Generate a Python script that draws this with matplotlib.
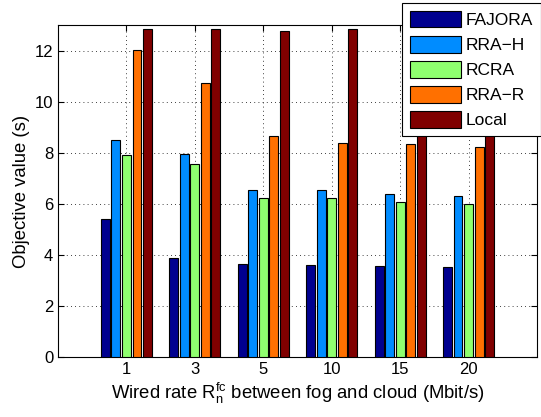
import numpy as np
import matplotlib.pyplot as plt

plt.rcParams['font.family'] = ['Liberation Sans', 'DejaVu Sans']

rates = ['1', '3', '5', '10', '15', '20']
fajora = [5.41, 3.86, 3.66, 3.61, 3.57, 3.53]
rra_h = [8.50, 7.93, 6.52, 6.52, 6.37, 6.30]
rcra = [7.91, 7.54, 6.22, 6.22, 6.08, 5.99]
rra_r = [12.04, 10.71, 8.65, 8.39, 8.33, 8.24]
local = [12.85, 12.85, 12.78, 12.85, 12.85, 12.85]

series = [('FAJORA', fajora, '#00008f'),
          ('RRA\u2212H', rra_h, '#008cff'),
          ('RCRA', rcra, '#8fff6f'),
          ('RRA\u2212R', rra_r, '#ff7000'),
          ('Local', local, '#800000')]

fig = plt.figure(figsize=(5.41, 4.17), dpi=100)
ax = fig.add_axes([58/541, 1 - 357/417, 479/541, 332/417])

x = np.arange(1, len(rates) + 1)
step = 0.154
for i, (name, vals, col) in enumerate(series):
    ax.bar(x + (i - 2) * step, vals, width=0.13, color=col,
           edgecolor='black', linewidth=0.8, label=name, zorder=3)

ax.set_xlim(0, 7)
ax.set_ylim(0, 13)
ax.set_xticks(x)
ax.set_xticklabels(rates)
ax.set_yticks(np.arange(0, 13, 2))
ax.grid(True, color='black', linestyle=(0, (1, 4)), linewidth=0.6)
ax.tick_params(direction='in', top=True, right=True, labelsize=12, length=4)
for s in ax.spines.values():
    s.set_linewidth(0.8)

ax.set_ylabel('Objective value (s)', fontsize=13.3, labelpad=3)
ax.set_xlabel(r'Wired rate $\mathregular{R_n^{fc}}$ between fog and cloud (Mbit/s)',
              fontsize=13.3, labelpad=3)

leg = ax.legend(loc='upper right', bbox_to_anchor=(541/541, 1 - 3/417),
                bbox_transform=fig.transFigure, fontsize=12.5, fancybox=False,
                edgecolor='black', framealpha=1, handlelength=2.9,
                handleheight=1.1, borderaxespad=0, labelspacing=0.45,
                handletextpad=0.3, borderpad=0.45)
leg.get_frame().set_linewidth(0.8)
leg.set_zorder(5)

fig.savefig('out.png', dpi=100)
